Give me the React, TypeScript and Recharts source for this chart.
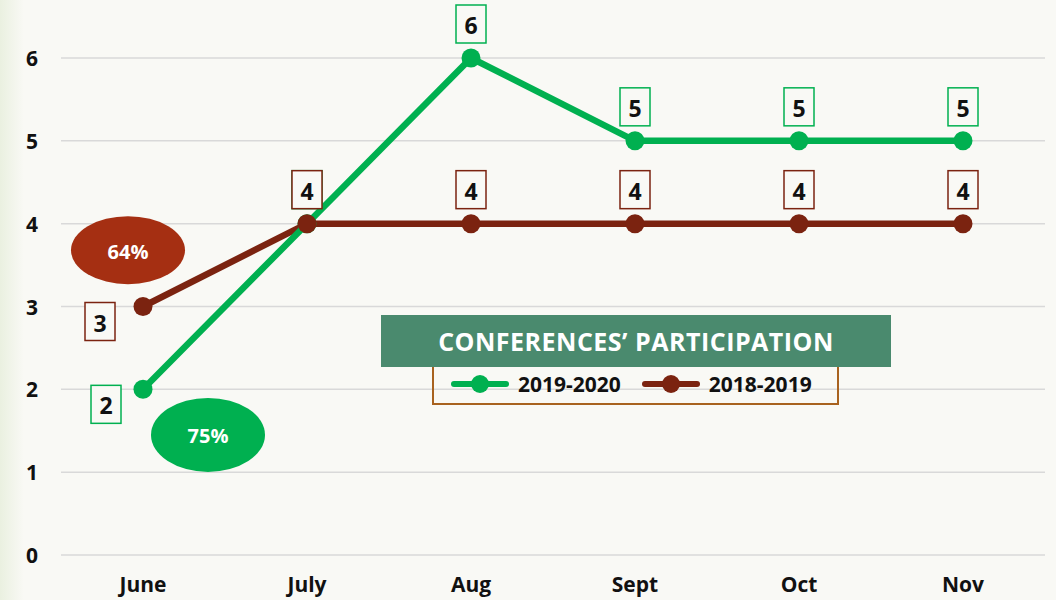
import {
  LineChart,
  Line,
  XAxis,
  YAxis,
  CartesianGrid,
  LabelList,
  ReferenceDot,
} from "recharts";

const months = ["June", "July", "Aug", "Sept", "Oct", "Nov"];
const year2019_2020 = [2, 4, 6, 5, 5, 5];
const year2018_2019 = [3, 4, 4, 4, 4, 4];
const yTicks = [0, 1, 2, 3, 4, 5, 6];
const seriesNames = ["2019-2020", "2018-2019"];
const shareLabels = ["75%", "64%"];
const shareLevels = [1.45, 3.68];
const title = "CONFERENCES’ PARTICIPATION";

const GREEN = "#00b050";
const BROWN = "#7b2310";
const BROWN_OVAL = "#a52f12";
const BG = "#f9f9f5";
const FONT = "'Open Sans', 'DejaVu Sans', sans-serif";

const data = months.map((m, i) => ({
  month: m,
  cur: year2019_2020[i],
  prev: year2018_2019[i],
}));

// boxed value label; first point sits below-left of the dot
function boxLabel(color: string, firstDx: number) {
  // eslint-disable-next-line @typescript-eslint/no-explicit-any
  return (props: any) => {
    const { x, y, value, index } = props;
    const w = 30;
    const h = 38;
    let cx = x;
    let cy = y - 15 - h / 2;
    if (index === 0) {
      cx = x + firstDx;
      cy = y + 15;
    }
    return (
      <g>
        <rect
          x={cx - w / 2}
          y={cy - h / 2}
          width={w}
          height={h}
          fill={BG}
          stroke={color}
          strokeWidth={1.5}
        />
        <text
          x={cx}
          y={cy + 1}
          textAnchor="middle"
          dominantBaseline="central"
          fontFamily={FONT}
          fontWeight={700}
          fontSize={23}
          fill="#111"
        >
          {value}
        </text>
      </g>
    );
  };
}

function oval(color: string, text: string, dx: number, ry: number) {
  // eslint-disable-next-line @typescript-eslint/no-explicit-any
  return (props: any) => (
    <g>
      <ellipse cx={props.cx + dx} cy={props.cy} rx={57} ry={ry} fill={color} />
      <text
        x={props.cx + dx}
        y={props.cy + 1}
        textAnchor="middle"
        dominantBaseline="central"
        fontFamily={FONT}
        fontWeight={700}
        fontSize={20}
        fill="#fff"
      >
        {text}
      </text>
    </g>
  );
}

// eslint-disable-next-line @typescript-eslint/no-explicit-any
function YTick({ y, payload }: any) {
  return (
    <text
      x={32}
      y={y}
      textAnchor="middle"
      dominantBaseline="central"
      fontFamily={FONT}
      fontWeight={700}
      fontSize={21}
      fill="#111"
    >
      {payload.value}
    </text>
  );
}

// eslint-disable-next-line @typescript-eslint/no-explicit-any
function XTick({ x, payload }: any) {
  return (
    <text
      x={x}
      y={584}
      textAnchor="middle"
      dominantBaseline="central"
      fontFamily={FONT}
      fontWeight={700}
      fontSize={21}
      fill="#111"
    >
      {payload.value}
    </text>
  );
}

function LegendItem({ color, label }: { color: string; label: string }) {
  return (
    <div style={{ display: "flex", alignItems: "center", gap: 8 }}>
      <svg width={60} height={20}>
        <line x1={4} y1={10} x2={56} y2={10} stroke={color} strokeWidth={6} strokeLinecap="round" />
        <circle cx={30} cy={10} r={9} fill={color} />
      </svg>
      <span style={{ fontFamily: FONT, fontWeight: 700, fontSize: 21, color: "#111" }}>{label}</span>
    </div>
  );
}

export default function App() {
  return (
    <div
      style={{
        position: "absolute",
        left: 0,
        top: 0,
        width: 1056,
        height: 600,
        background: `linear-gradient(to right, #eaf0e0 0px, ${BG} 24px)`,
        overflow: "hidden",
      }}
    >
      <LineChart
        width={1056}
        height={600}
        data={data}
        margin={{ top: 58, right: 11, left: 0, bottom: 0 }}
      >
        <CartesianGrid vertical={false} stroke="#d9d9d9" strokeWidth={1.5} />
        <XAxis
          dataKey="month"
          axisLine={false}
          tickLine={false}
          height={45}
          padding={{ left: 82, right: 82 }}
          tick={<XTick />}
        />
        <YAxis
          domain={[0, 6]}
          ticks={yTicks}
          axisLine={false}
          tickLine={false}
          width={61}
          tick={<YTick />}
        />
        <ReferenceDot
          x="June"
          y={shareLevels[1]}
          r={1}
          shape={oval(BROWN_OVAL, shareLabels[1], -15, 34)}
        />
        <ReferenceDot
          x="June"
          y={shareLevels[0]}
          r={1}
          shape={oval(GREEN, shareLabels[0], 65, 37)}
        />
        <Line
          dataKey="prev"
          name={seriesNames[1]}
          stroke={BROWN}
          strokeWidth={6.5}
          dot={false}
          isAnimationActive={false}
        />
        <Line
          dataKey="cur"
          name={seriesNames[0]}
          stroke={GREEN}
          strokeWidth={6.5}
          dot={{ r: 9.5, fill: GREEN, stroke: "none" }}
          isAnimationActive={false}
        >
          <LabelList dataKey="cur" content={boxLabel(GREEN, -37)} />
        </Line>
        <Line
          dataKey="prev"
          name={seriesNames[1]}
          stroke="none"
          strokeWidth={0}
          dot={{ r: 9.5, fill: BROWN, stroke: "none" }}
          legendType="none"
          isAnimationActive={false}
        >
          <LabelList dataKey="prev" content={boxLabel(BROWN, -43)} />
        </Line>
      </LineChart>

      {/* legend box with title bar */}
      <div
        style={{
          position: "absolute",
          left: 432,
          top: 350,
          width: 403,
          height: 53,
          border: "2px solid #a8621f",
          borderTop: "none",
        }}
      />
      <div
        style={{
          position: "absolute",
          left: 381,
          top: 315,
          width: 510,
          height: 52,
          background: "#4a8a6e",
          color: "#fff",
          fontFamily: FONT,
          fontWeight: 700,
          fontSize: 25,
          display: "flex",
          alignItems: "center",
          justifyContent: "center",
          letterSpacing: 0.5,
        }}
      >
        {title}
      </div>
      <div
        style={{
          position: "absolute",
          left: 450,
          top: 370,
          display: "flex",
          gap: 20,
        }}
      >
        <LegendItem color={GREEN} label={seriesNames[0]} />
        <LegendItem color={BROWN} label={seriesNames[1]} />
      </div>
    </div>
  );
}
